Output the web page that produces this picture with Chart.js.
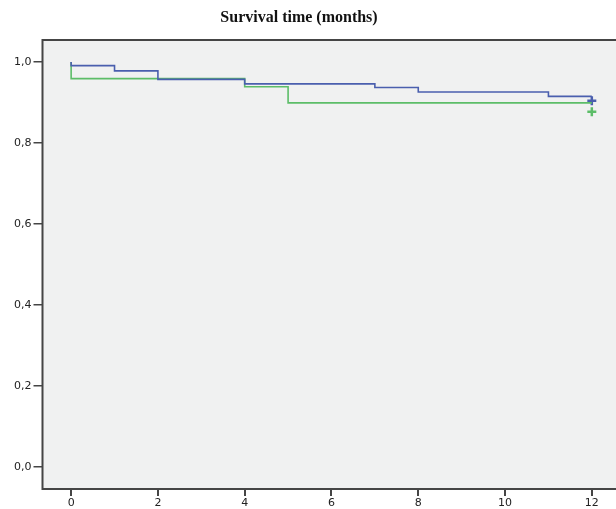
<!DOCTYPE html>
<html>
<head>
<meta charset="utf-8">
<script src="https://cdn.jsdelivr.net/npm/chart.js@4/dist/chart.umd.min.js"></script>
<style>
html,body{margin:0;padding:0;background:#fff;overflow:hidden;width:616px;height:509px;}
#wrap{width:640px;height:509px;position:relative;}
</style>
</head>
<body>
<div id="wrap"><canvas id="c" width="640" height="509"></canvas></div>
<script>
const titleText = "Survival time (months)";
const xTicks = [0, 2, 4, 6, 8, 10, 12];
const yTicks = [0.0, 0.2, 0.4, 0.6, 0.8, 1.0];

const blueTimes = [0, 0, 1, 2, 4, 7, 8, 11, 12];
const blueSurv  = [1.0, 0.991, 0.978, 0.957, 0.946, 0.937, 0.926, 0.915, 0.915];
const blueCensorTimes = [12];
const blueCensorSurv  = [0.904];

const greenTimes = [0, 0, 4, 5, 12];
const greenSurv  = [1.0, 0.959, 0.939, 0.899, 0.899];
const greenCensorTimes = [12];
const greenCensorSurv  = [0.877];

const BLUE = '#4a5fae';
const GREEN = '#5cbd68';
const AXIS = '#454545';

const toPts = (xs, ys) => xs.map((x, i) => ({x: x, y: ys[i]}));

const areaPlugin = {
  id: 'area',
  beforeDatasetsDraw(chart) {
    const {ctx, chartArea: a} = chart;
    ctx.save();
    ctx.fillStyle = '#f0f1f1';
    ctx.fillRect(a.left, a.top, a.right - a.left, a.bottom - a.top);
    ctx.restore();
  },
  afterDraw(chart) {
    const {ctx, chartArea: a} = chart;
    ctx.save();
    ctx.strokeStyle = AXIS;
    ctx.lineWidth = 2;
    ctx.strokeRect(a.left, a.top, a.right - a.left, a.bottom - a.top);
    ctx.fillStyle = '#111';
    ctx.font = 'bold 16px "Liberation Serif", "Times New Roman", serif';
    ctx.textAlign = 'center';
    ctx.textBaseline = 'middle';
    ctx.fillText(titleText, 299, 18);
    ctx.restore();
  }
};

const tickFont = {family: '"DejaVu Sans", Verdana, sans-serif', size: 11};

new Chart(document.getElementById('c'), {
  type: 'scatter',
  data: {
    datasets: [
      {data: toPts(blueTimes, blueSurv), showLine: true, stepped: 'before', borderColor: BLUE, borderWidth: 1.6, pointRadius: 0, fill: false},
      {data: toPts(greenTimes, greenSurv), showLine: true, stepped: 'before', borderColor: GREEN, borderWidth: 1.6, pointRadius: 0, fill: false},
      {data: toPts(blueCensorTimes, blueCensorSurv), pointStyle: 'cross', pointRadius: 4.5, pointBorderWidth: 2.5, borderColor: BLUE, backgroundColor: BLUE},
      {data: toPts(greenCensorTimes, greenCensorSurv), pointStyle: 'cross', pointRadius: 4.5, pointBorderWidth: 2.5, borderColor: GREEN, backgroundColor: GREEN}
    ]
  },
  options: {
    responsive: false,
    animation: false,
    events: [],
    layout: {padding: {top: 40, right: 10, left: 0, bottom: 0}},
    plugins: {legend: {display: false}, tooltip: {enabled: false}, title: {display: false}},
    scales: {
      x: {
        type: 'linear', min: -0.66, max: 12.88,
        afterBuildTicks: s => { s.ticks = xTicks.map(v => ({value: v})); },
        afterFit: s => { s.height = 20; },
        grid: {display: true, drawOnChartArea: false, drawTicks: true, tickLength: 7, color: AXIS, lineWidth: 2},
        border: {display: true, color: AXIS, width: 2},
        ticks: {color: '#222', font: tickFont, padding: 1, maxRotation: 0, callback: v => String(v)}
      },
      y: {
        type: 'linear', min: -0.0543, max: 1.0543,
        afterBuildTicks: s => { s.ticks = yTicks.map(v => ({value: v})); },
        afterFit: s => { s.width = 42.5; },
        grid: {display: true, drawOnChartArea: false, drawTicks: true, tickLength: 9, color: AXIS, lineWidth: 1.5},
        border: {display: true, color: AXIS, width: 2},
        ticks: {color: '#222', font: tickFont, padding: 2, callback: v => v.toFixed(1).replace('.', ',')}
      }
    }
  },
  plugins: [areaPlugin]
});
</script>
</body>
</html>
